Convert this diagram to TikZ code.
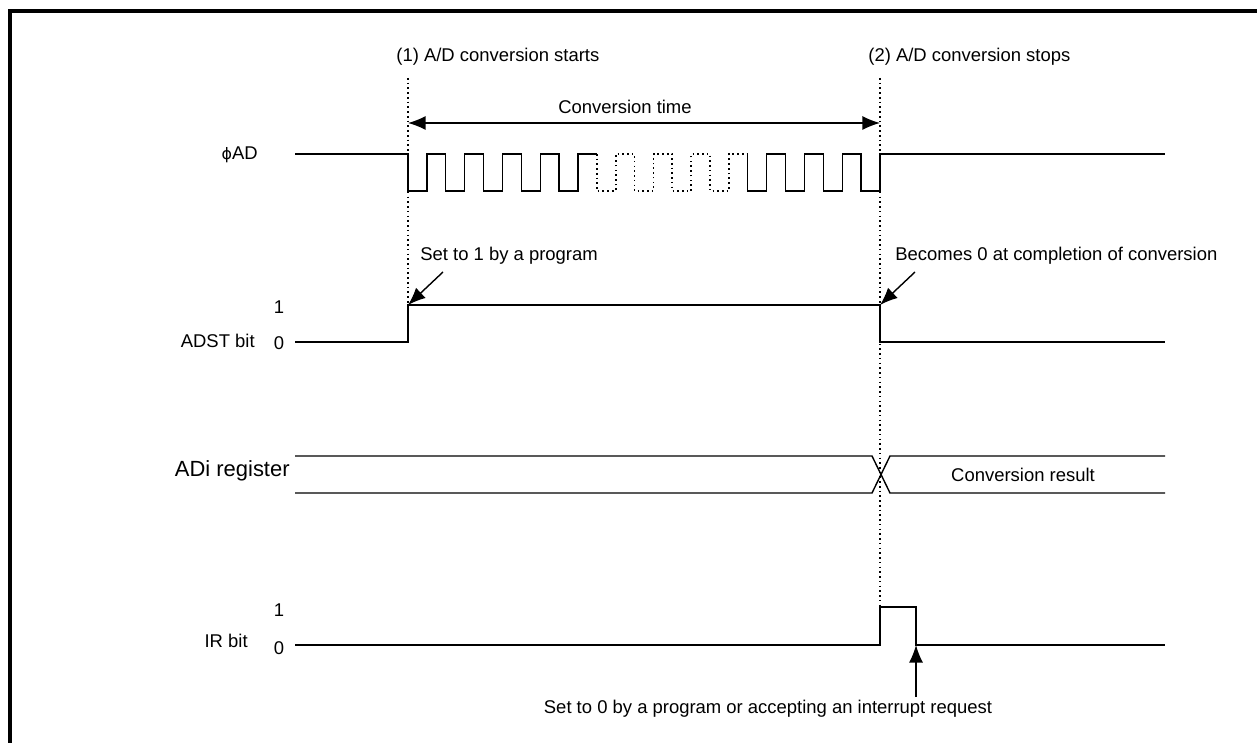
\documentclass[tikz,border=0pt]{standalone}
\usepackage{fontspec}
\setmainfont{Liberation Sans}
\newfontfamily\symfont{DejaVu Sans}
\usetikzlibrary{arrows.meta}

\begin{document}
\begin{tikzpicture}[>={Latex[length=10pt,width=8pt]}, x=0.02cm, y=-0.02cm]

  % Styles
  \tikzset{
    signal/.style={line width=0.8pt},
    guide/.style={line width=0.9pt, dash pattern=on 0.9pt off 1.8pt},
    frame/.style={line width=1.9pt},
    note/.style={font=\fontsize{10.5}{12}\selectfont, inner sep=0pt},
    level/.style={font=\fontsize{10.5}{12}\selectfont, inner sep=0pt},
    big note/.style={font=\fontsize{12.5}{14}\selectfont, inner sep=0pt}
  }

  \useasboundingbox (0,0) rectangle (1257,743);

  % --- Frame ---
  \draw[frame] (10,743) -- (10,11) -- (1257,11);

  % --- Start / stop markers ---
  \coordinate (startTop) at (408,78);
  \coordinate (stopTop)  at (880,78);
  \node[note, anchor=west] (startNote) at (396,57) {(1) A/D conversion starts};
  \node[note, anchor=west] (stopNote)  at (868,57) {(2) A/D conversion stops};
  \draw[guide] (startTop) -- (408,342);
  \draw[guide] (stopTop) -- (880,607);

  % Conversion time
  \coordinate (ctL) at (408,123);
  \coordinate (ctR) at (880,123);
  \draw[signal, <->] (ctL) -- (ctR);
  \node[note] (ctNote) at (625,107) {Conversion time};

  % --- phi AD clock ---
  \node[note, anchor=east] (adLabel) at (258,155) {{\symfont\fontsize{9}{10}\selectfont ϕ}AD};
  \draw[signal] (295,154) -- (408,154) -- (408,191)
    \foreach \k in {0,...,3} { -- ++(19,0) -- ++(0,-37) -- ++(18.75,0) -- ++(0,37) }
    -- ++(19,0) -- ++(0,-37) -- ++(18.75,0) coordinate (dotA);
  \draw[guide] (dotA)
    \foreach \k in {1,...,4} { -- ++(0,37) -- ++(19,0) -- ++(0,-37) -- ++(18.75,0) }
    coordinate (dotB);
  \draw[signal] (dotB)
    \foreach \k in {1,...,3} { -- ++(0,37) -- ++(19,0) -- ++(0,-37) -- ++(18.75,0) }
    -- ++(0,37) -- (880,191) -- (880,154) -- (1165,154);

  % --- ADST bit ---
  \node[note, anchor=east] (adstLabel) at (255,341) {ADST bit};
  \node[level] (adstOne)  at (279,307) {1};
  \node[level] (adstZero) at (279,343) {0};
  \draw[signal] (295,342) -- (408,342) -- (408,305) coordinate (adstRise)
    -- (880,305) coordinate (adstFall) -- (880,342) -- (1165,342);
  \node[note, anchor=west] (setNote) at (420,256) {Set to 1 by a program};
  \node[note, anchor=west] (doneNote) at (895,256) {Becomes 0 at completion of conversion};
  \coordinate (setTail)  at (443,272);
  \coordinate (doneTail) at (915,272);
  \draw[signal, ->] (setTail) -- (adstRise);
  \draw[signal, ->] (doneTail) -- (adstFall);

  % --- ADi register ---
  \node[big note, anchor=east] (adiLabel) at (290,471) {ADi register};
  \draw[signal] (295,456) -- (872,456) -- (890,493) -- (1165,493);
  \draw[signal] (295,493) -- (872,493) -- (890,456) -- (1165,456);
  \node[note] (resultNote) at (1023,475) {Conversion result};

  % --- IR bit ---
  \node[note, anchor=east] (irLabel) at (248,641) {IR bit};
  \node[level] (irOne)  at (279,610) {1};
  \node[level] (irZero) at (279,648) {0};
  \draw[signal] (295,645) -- (880,645) -- (880,607) -- (916,607)
    -- (916,645) coordinate (irFall) -- (1165,645);
  \node[note] (irNote) at (768,709) {Set to 0 by a program or accepting an interrupt request};
  \draw[signal, ->] (irFall |- irNote.north) ++(0,-3) -- (irFall);

\end{tikzpicture}
\end{document}
